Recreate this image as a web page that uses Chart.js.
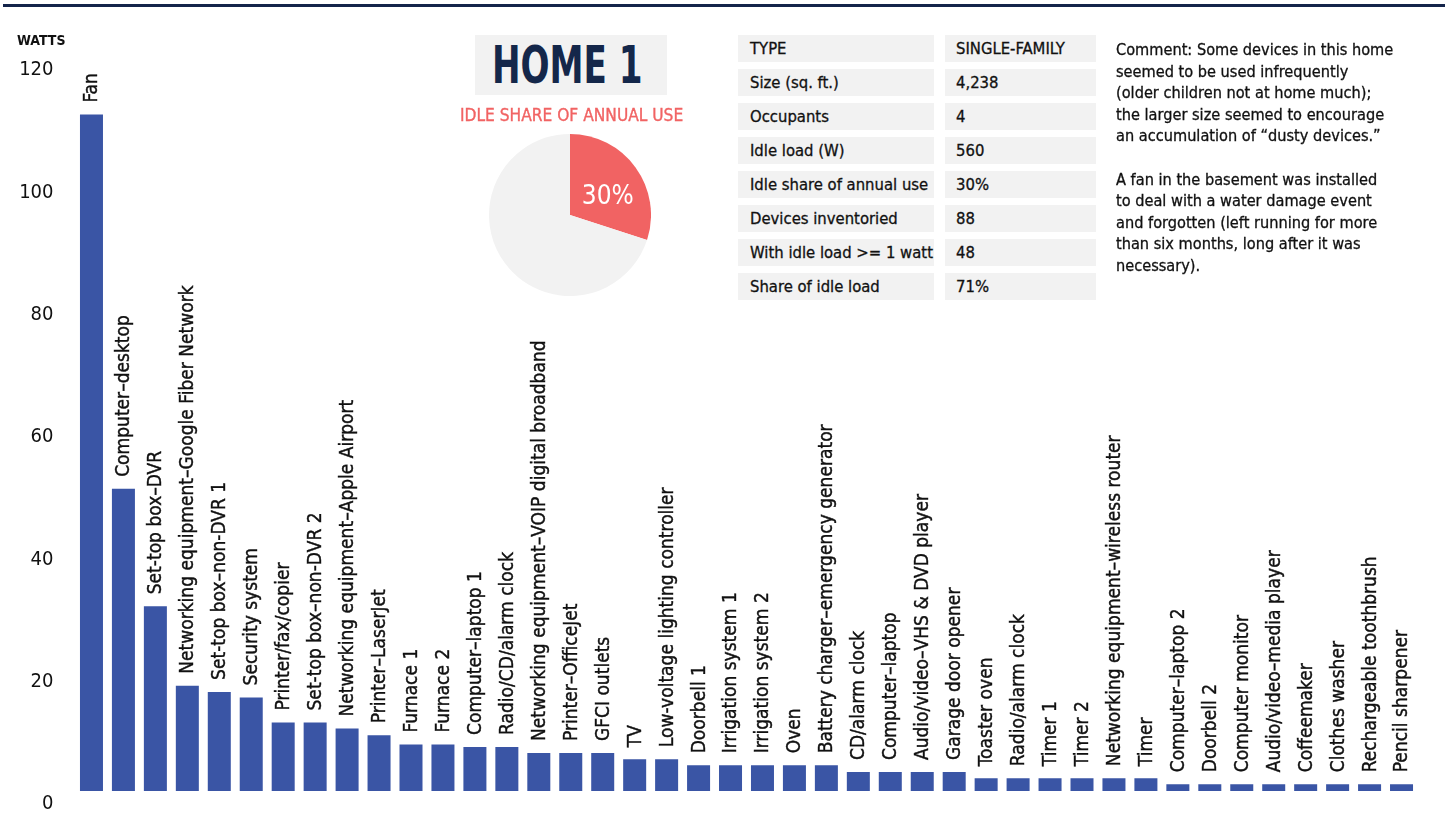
<!DOCTYPE html>
<html>
<head>
<meta charset="utf-8">
<script src="https://cdn.jsdelivr.net/npm/chart.js@4.4.0/dist/chart.umd.min.js"></script>
<style>
  body { margin: 0; background: #fff; }
  #page { position: relative; width: 1445px; height: 825px; overflow: hidden; background: #fff;
    font-family: 'DejaVu Sans Condensed', 'DejaVu Sans', sans-serif; color: #111; }
  #topLine { position: absolute; left: 3px; right: 0; top: 4px; height: 3px; background: #14244a; }
  #barChart { position: absolute; left: 0; top: 0; }
  #watts { position: absolute; left: 17px; top: 32px; font-size: 14px; font-weight: bold; }
  #titleBox { position: absolute; left: 475px; top: 35px; width: 192px; height: 60px; background: #f2f2f2; }
  #titleBox span { position: absolute; left: 17px; top: 0px; font-size: 52px; font-weight: bold; color: #14274a;
    transform: scaleX(0.73); transform-origin: left top; white-space: nowrap; }
  #pieTitle { position: absolute; left: 460px; top: 105px; font-size: 17.2px; color: #f16363; white-space: nowrap;
    -webkit-text-stroke: 0.35px #f16363; }
  #pieChart { position: absolute; left: 489px; top: 134px; }
  .cell { position: absolute; height: 27px; line-height: 27px; background: #f2f2f2; font-size: 16.5px;
    box-sizing: border-box; white-space: nowrap; -webkit-text-stroke: 0.3px #111; }
  .lab { left: 738px; width: 196px; padding-left: 12px; }
  .val { left: 945px; width: 151px; padding-left: 11px; }
  #comment { position: absolute; left: 1116px; top: 39px; width: 329px; font-size: 16.2px; line-height: 21.6px;
    white-space: nowrap; -webkit-text-stroke: 0.3px #111; }
  #comment p { margin: 0 0 21.6px 0; }
</style>
</head>
<body>
<div id="page">
  <div id="topLine"></div>
  <canvas id="barChart" width="1445" height="825"></canvas>
  <div id="watts">WATTS</div>
  <div id="titleBox"><span>HOME 1</span></div>
  <div id="pieTitle">IDLE SHARE OF ANNUAL USE</div>
  <canvas id="pieChart" width="162" height="162"></canvas>
  <div id="table"></div>
  <div id="comment"></div>
</div>
<script>
// Devices and their idle load (watts)
const devices = [
  'Fan', 'Computer–desktop', 'Set-top box–DVR', 'Networking equipment–Google Fiber Network',
  'Set-top box–non-DVR 1', 'Security system', 'Printer/fax/copier', 'Set-top box–non-DVR 2',
  'Networking equipment–Apple Airport', 'Printer–LaserJet', 'Furnace 1', 'Furnace 2',
  'Computer–laptop 1', 'Radio/CD/alarm clock', 'Networking equipment–VOIP digital broadband',
  'Printer–OfficeJet', 'GFCI outlets', 'TV', 'Low-voltage lighting controller', 'Doorbell 1',
  'Irrigation system 1', 'Irrigation system 2', 'Oven', 'Battery charger–emergency generator',
  'CD/alarm clock', 'Computer–laptop', 'Audio/video–VHS & DVD player', 'Garage door opener',
  'Toaster oven', 'Radio/alarm clock', 'Timer 1', 'Timer 2', 'Networking equipment–wireless router',
  'Timer', 'Computer–laptop 2', 'Doorbell 2', 'Computer monitor', 'Audio/video–media player',
  'Coffeemaker', 'Clothes washer', 'Rechargeable toothbrush', 'Pencil sharpener'
];
const watts = [
  110.6, 49.4, 30.2, 17.2, 16.2, 15.3, 11.2, 11.2, 10.2, 9.1, 7.6, 7.6,
  7.2, 7.2, 6.2, 6.2, 6.2, 5.2, 5.2, 4.2, 4.2, 4.2, 4.2, 4.2,
  3.1, 3.1, 3.1, 3.1, 2.1, 2.1, 2.1, 2.1, 2.1, 2.1,
  1.1, 1.1, 1.1, 1.1, 1.1, 1.1, 1.1, 1.1
];
const yTicks = [0, 20, 40, 60, 80, 100, 120];

// Pie: idle share of annual use
const pieLabels = ['Idle', 'Other'];
const pieValues = [30, 70];

// Home facts table
const tableLabels = ['TYPE', 'Size (sq. ft.)', 'Occupants', 'Idle load (W)', 'Idle share of annual use',
  'Devices inventoried', 'With idle load >= 1 watt', 'Share of idle load'];
const tableValues = ['SINGLE-FAMILY', '4,238', '4', '560', '30%', '88', '48', '71%'];

const commentParas = [
  ['Comment: Some devices in this home', 'seemed to be used infrequently', '(older children not at home much);',
   'the larger size seemed to encourage', 'an accumulation of “dusty devices.”'],
  ['A fan in the basement was installed', 'to deal with a water damage event',
   'and forgotten (left running for more', 'than six months, long after it was', 'necessary).']
];

const FONT = "'DejaVu Sans Condensed', 'DejaVu Sans', sans-serif";
const BAR_COLOR = '#3a55a5';

// table
const tableDiv = document.getElementById('table');
tableLabels.forEach((lab, i) => {
  const top = 35 + i * 34;
  tableDiv.innerHTML += `<div class="cell lab" style="top:${top}px">${lab.replace('>', '&gt;')}</div>` +
    `<div class="cell val" style="top:${top}px">${tableValues[i]}</div>`;
});

// comment
document.getElementById('comment').innerHTML = commentParas.map(p => `<p>${p.join('<br>')}</p>`).join('');

// labels above bars, rotated
const barLabels = {
  id: 'barLabels',
  afterDatasetsDraw(chart) {
    const ctx = chart.ctx;
    const meta = chart.getDatasetMeta(0);
    ctx.save();
    ctx.fillStyle = '#111';
    ctx.strokeStyle = '#111';
    ctx.lineWidth = 0.4;
    ctx.font = `19px ${FONT}`;
    ctx.textAlign = 'left';
    ctx.textBaseline = 'middle';
    meta.data.forEach((bar, i) => {
      ctx.save();
      ctx.translate(bar.x + 1, bar.y - 12);
      ctx.rotate(-Math.PI / 2);
      ctx.fillText(chart.data.labels[i], 0, 0);
      ctx.strokeText(chart.data.labels[i], 0, 0);
      ctx.restore();
    });
    ctx.restore();
  }
};

new Chart(document.getElementById('barChart'), {
  type: 'bar',
  data: {
    labels: devices,
    datasets: [{
      data: watts,
      backgroundColor: BAR_COLOR,
      barPercentage: 0.72,
      categoryPercentage: 1.0
    }]
  },
  options: {
    responsive: false,
    devicePixelRatio: 1,
    animation: false,
    layout: { padding: { top: 57, right: 27.5, bottom: 30, left: 0 } },
    plugins: { legend: { display: false }, tooltip: { enabled: false } },
    scales: {
      x: { display: false },
      y: {
        min: 0,
        max: 120,
        afterBuildTicks: scale => { scale.ticks = yTicks.map(v => ({ value: v })); },
        afterFit: scale => { scale.width = 75.5; },
        grid: { display: false, drawTicks: false },
        border: { display: false },
        ticks: {
          padding: 22,
          labelOffset: 13,
          color: '#111',
          font: { family: FONT, size: 20 }
        }
      }
    }
  },
  plugins: [barLabels]
});

// pie label
const pieLabel = {
  id: 'pieLabel',
  afterDatasetsDraw(chart) {
    const ctx = chart.ctx;
    const arc = chart.getDatasetMeta(0).data[0];
    const pos = arc.tooltipPosition();
    ctx.save();
    ctx.fillStyle = '#fff';
    ctx.font = `26px ${FONT}`;
    ctx.textAlign = 'center';
    ctx.textBaseline = 'middle';
    ctx.fillText(pieValues[0] + '%', pos.x + 5, pos.y + 6);
    ctx.restore();
  }
};

new Chart(document.getElementById('pieChart'), {
  type: 'pie',
  data: {
    labels: pieLabels,
    datasets: [{ data: pieValues, backgroundColor: ['#f16363', '#f2f2f2'], borderWidth: 0 }]
  },
  options: {
    responsive: false,
    devicePixelRatio: 1,
    animation: false,
    layout: { padding: 0 },
    plugins: { legend: { display: false }, tooltip: { enabled: false } }
  },
  plugins: [pieLabel]
});
</script>
</body>
</html>
